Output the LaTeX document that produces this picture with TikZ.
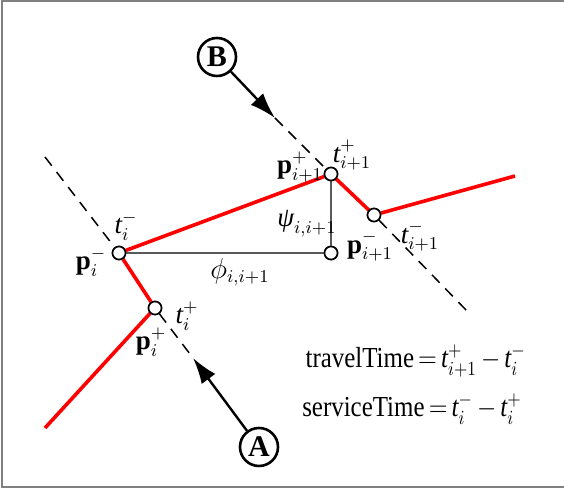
\documentclass[tikz,border=0pt]{standalone}
\usepackage{amsmath}
\usepackage{graphicx}
\usepackage{fontspec}
\setmainfont{Liberation Serif}
\usetikzlibrary{arrows.meta}

\newcommand{\tvar}[2]{$\textit{t}^{#1}_{#2}$}
\newcommand{\pvar}[2]{$\textbf{p}^{#1}_{#2}$}
\newcommand{\narrow}[1]{\scalebox{0.86}[1]{#1}}

\begin{document}
\begin{tikzpicture}[x=0.5pt, y=-0.5pt,
  pt/.style={circle, draw=black, fill=white, line width=0.8pt, inner sep=0pt,
             minimum size=6.5pt},
  route/.style={red, line width=1.8pt},
  ray/.style={line width=0.75pt, dash pattern=on 5.5pt off 4pt},
  arr/.style={-{Latex[length=13pt, width=8.5pt]}, line width=1.2pt},
  tag/.style={circle, draw=black, line width=1.3pt, minimum size=19pt,
              inner sep=0pt, font=\fontsize{15}{15}\selectfont\bfseries},
  lbl/.style={font=\fontsize{13.5}{15}\selectfont, inner sep=1pt},
  aux/.style={black!65, line width=0.6pt}
]
  \useasboundingbox (0,0) rectangle (564,490);
  % Frame (right side lies outside)
  \draw[gray, line width=0.8pt] (570,1) -- (2,1) -- (2,487) -- (570,487);

  % Points on the route
  \node[pt] (pim) at (119,253) {};
  \node[pt] (pip) at (155,308) {};
  \node[pt] (pjp) at (331,174) {};
  \node[pt] (pjm) at (374,215) {};
  \node[pt] (crn) at (331,253) {};
  \coordinate (rs) at (45,428);
  \coordinate (re) at (515,176);
  \coordinate (da) at (45,157);
  \coordinate (db) at (467,311);

  % Tags
  \node[tag] (A) at (259,447) {A};
  \node[tag] (B) at (217,57) {B};
  \coordinate (at) at (193,358);
  \coordinate (bt) at (275,118);

  % Dashed rays
  \draw[ray] (da) -- (pim);
  \draw[ray] (pip) -- (at);
  \draw[ray] (bt) -- (pjp);
  \draw[ray] (pjm) -- (db);

  % Auxiliary triangle
  \draw[aux] (pim) -- (crn) -- (pjp);

  % Route
  \draw[route] (rs) -- (pip) -- (pim) -- (pjp) -- (pjm) -- (re);
  \foreach \n in {pim,pip,pjp,pjm,crn} \node[pt] at (\n) {};

  % Arrows
  \draw[arr] (A) -- (at);
  \draw[arr] (B) -- (bt);

  % Labels
  \node[lbl] at (126,226) {\tvar{-}{i}};
  \node[lbl] at (91,262) {\pvar{-}{i}};
  \node[lbl] at (187,316) {\tvar{+}{i}};
  \node[lbl] at (151,342) {\pvar{+}{i}};
  \node[lbl] at (300,167) {\pvar{+}{i+1}};
  \node[lbl] at (352,155) {\tvar{+}{i+1}};
  \node[lbl] at (307,224) {$\textit{ψ}_{i,i+1}$};
  \node[lbl] at (240,272) {$\phi_{i,i+1}$};
  \node[lbl] at (370,246) {\pvar{-}{i+1}};
  \node[lbl] at (420,236) {\tvar{-}{i+1}};
  \node[lbl, font=\fontsize{14.5}{16}\selectfont, anchor=east] (tt) at (528,361)
    {\narrow{travelTime$\,{=}\,$\tvar{+}{i+1}$\,{-}\,$\tvar{-}{i}}};
  \node[lbl, font=\fontsize{14.5}{16}\selectfont, anchor=east] (st) at (524,409)
    {\narrow{serviceTime$\,{=}\,$\tvar{-}{i}$\,{-}\,$\tvar{+}{i}}};
\end{tikzpicture}
\end{document}
